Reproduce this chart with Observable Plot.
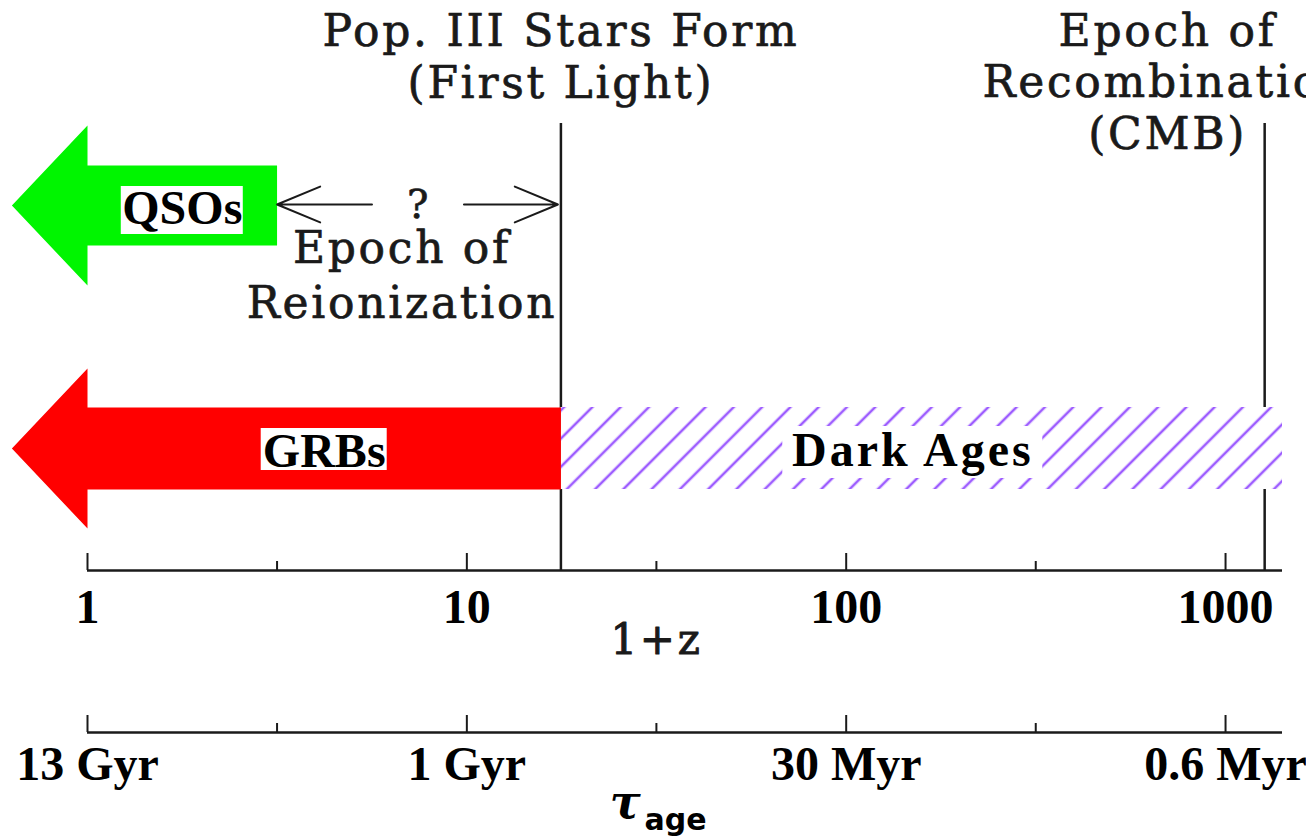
<!DOCTYPE html>
<html>
<head>
<meta charset="utf-8">
<script src="https://cdn.jsdelivr.net/npm/d3@7"></script>
<script src="https://cdn.jsdelivr.net/npm/@observablehq/plot@0.6"></script>
<style>
  html, body { margin: 0; padding: 0; background: #fff; overflow: hidden; }
  #chart svg { display: block; }
</style>
</head>
<body>
<div id="chart"></div>
<script>
// ---------------- data (1+z values) ----------------
const majorTicks = [1, 10, 100, 1000];
const minorTicks = [3.16, 31.6, 316];
const redshiftLabels = ["1", "10", "100", "1000"];
const ageLabels = ["13 Gyr", "1 Gyr", "30 Myr", "0.6 Myr"];
const axisStart = 1;
const axisEnd = 1413;
const popIIIz = 17.7;     // first light
const cmbZ = 1268;        // recombination
const qsoEnd = 3.16;      // QSOs reach to here
const grbEnd = 17.7;      // GRBs reach to here
const arrowTip = 0.632;   // arrow tips extend past 1+z = 1
const headBase = 1;
const epochTitles = ["Pop. III Stars Form\n(First Light)", "Epoch of\nRecombination\n(CMB)"];
const probeNames = ["QSOs", "GRBs", "Dark Ages"];

// ---------------- layout (vertical, in pixels of the y scale) ----------------
const L = {
  lineTop: 123, axisTop: 570, axisBottom: 732,
  majorLen: 17, minorLen: 9,
  qso: {cy: 205, shaft: 40, head: 80},
  grb: {cy: 448, shaft: 41, head: 80}
};

const ink = "#1a1a1a";
const serif = "DejaVu Serif, serif";
const boldSerif = "Liberation Serif, Times New Roman, serif";

function arrowPoly(end, g) {
  return [
    {x: arrowTip, y: g.cy},
    {x: headBase, y: g.cy - g.head},
    {x: headBase, y: g.cy - g.shaft},
    {x: end, y: g.cy - g.shaft},
    {x: end, y: g.cy + g.shaft},
    {x: headBase, y: g.cy + g.shaft},
    {x: headBase, y: g.cy + g.head}
  ];
}

const qMid = Math.sqrt(qsoEnd * popIIIz);
const qsoLabelX = Math.sqrt(headBase * qsoEnd);
const grbLabelX = Math.sqrt(headBase * grbEnd);
const darkLabelX = Math.sqrt(popIIIz * cmbZ);
const zLabelX = Math.sqrt(majorTicks[0] * majorTicks[3]);

const ticksTop = majorTicks.map((v, i) => ({v, label: redshiftLabels[i]}));
const ticksBottom = majorTicks.map((v, i) => ({v, label: ageLabels[i]}));

function box(x, cy, halfW, halfH) {
  return Plot.rect([{x, y: cy}], {
    x1: "x", x2: "x", y1: "y", y2: "y",
    insetLeft: -halfW, insetRight: -halfW, insetTop: -halfH, insetBottom: -halfH,
    fill: "white"
  });
}

const plainText = {fontFamily: serif, fontSize: 44, fill: ink, stroke: ink, strokeWidth: 0.7, lineAnchor: "bottom"};

const svg = Plot.plot({
  width: 1306,
  height: 839,
  marginLeft: 0, marginRight: 0, marginTop: 0, marginBottom: 0,
  x: {type: "log", domain: [axisStart, axisEnd], range: [87, 1282], axis: null},
  y: {domain: [0, 839], range: [0, 839], axis: null},
  marks: [
    // epoch lines
    Plot.ruleX([popIIIz, cmbZ], {y1: L.lineTop, y2: L.axisTop, stroke: ink, strokeWidth: 2.5}),
    // dark ages band (white underlay + hatch)
    Plot.rect([{x1: popIIIz, x2: axisEnd, y1: L.grb.cy - L.grb.shaft, y2: L.grb.cy + L.grb.shaft}],
      {x1: "x1", x2: "x2", y1: "y1", y2: "y2", fill: "white"}),
    Plot.rect([{x1: popIIIz, x2: axisEnd, y1: L.grb.cy - L.grb.shaft, y2: L.grb.cy + L.grb.shaft}],
      {x1: "x1", x2: "x2", y1: "y1", y2: "y2", fill: "url(#hatch)"}),
    // GRB and QSO arrows
    Plot.line(arrowPoly(grbEnd, L.grb), {x: "x", y: "y", curve: "linear-closed", fill: "#ff0000", stroke: "none"}),
    Plot.line(arrowPoly(qsoEnd, L.qso), {x: "x", y: "y", curve: "linear-closed", fill: "#00f500", stroke: "none"}),
    // label boxes
    box(qsoLabelX, 210, 61, 24),
    box(grbLabelX, 449, 63, 21),
    box(darkLabelX, 452, 130, 26),
    // probe labels
    Plot.text([probeNames[0]], {x: qsoLabelX, y: 223, text: d => d, lineAnchor: "bottom",
      fontFamily: boldSerif, fontWeight: "bold", fontSize: 48, fill: "black"}),
    Plot.text([probeNames[1]], {x: grbLabelX, y: 466, text: d => d, lineAnchor: "bottom",
      fontFamily: boldSerif, fontWeight: "bold", fontSize: 48, fill: "black"}),
    Plot.text([probeNames[2]], {x: darkLabelX, y: 465, text: d => d, lineAnchor: "bottom",
      fontFamily: boldSerif, fontWeight: "bold", fontSize: 48, fill: "black"}),
    // reionization "?" arrows
    Plot.arrow([{a: qMid, b: qsoEnd}], {x1: "a", x2: "b", y1: L.qso.cy - 1, y2: L.qso.cy - 1,
      insetStart: 47, insetEnd: 0, headLength: 35, headAngle: 45, strokeWidth: 2, stroke: ink}),
    Plot.arrow([{a: qMid, b: popIIIz}], {x1: "a", x2: "b", y1: L.qso.cy - 1, y2: L.qso.cy - 1,
      insetStart: 45, insetEnd: 3, headLength: 35, headAngle: 45, strokeWidth: 2, stroke: ink}),
    Plot.text(["?"], {...plainText, x: qMid, y: 217, text: d => d, fontSize: 40}),
    Plot.text(["Epoch of\nReionization"], {...plainText, x: qMid, dx: -17, y: 317, text: d => d,
      lineHeight: 1.23}),
    // epoch titles
    Plot.text([epochTitles[0]], {...plainText, x: popIIIz, y: 97, text: d => d, lineHeight: 1.18}),
    Plot.text([epochTitles[1]], {...plainText, x: cmbZ, dx: -97, y: 148, text: d => d, lineHeight: 1.17}),
    // 1+z axis
    Plot.ruleY([L.axisTop], {x1: axisStart, x2: axisEnd, stroke: ink, strokeWidth: 2.5}),
    Plot.ruleX(majorTicks, {y1: L.axisTop - L.majorLen, y2: L.axisTop, stroke: ink, strokeWidth: 2}),
    Plot.ruleX(minorTicks, {y1: L.axisTop - L.minorLen, y2: L.axisTop, stroke: ink, strokeWidth: 2}),
    Plot.text(ticksTop, {x: "v", y: 622, text: "label", lineAnchor: "bottom",
      fontFamily: boldSerif, fontWeight: "bold", fontSize: 48, fill: "black"}),
    Plot.text(["1+z"], {...plainText, x: zLabelX, y: 653, text: d => d, fontSize: 42, strokeWidth: 1}),
    // age axis
    Plot.ruleY([L.axisBottom], {x1: axisStart, x2: axisEnd, stroke: ink, strokeWidth: 2.5}),
    Plot.ruleX(majorTicks, {y1: L.axisBottom - L.majorLen, y2: L.axisBottom, stroke: ink, strokeWidth: 2}),
    Plot.ruleX(minorTicks, {y1: L.axisBottom - L.minorLen, y2: L.axisBottom, stroke: ink, strokeWidth: 2}),
    Plot.text(ticksBottom, {x: "v", y: 779, text: "label", lineAnchor: "bottom",
      fontFamily: boldSerif, fontWeight: "bold", fontSize: 48, fill: "black"}),
    Plot.text(["τ"], {x: zLabelX, dx: -13, y: 817, text: d => d, lineAnchor: "bottom", textAnchor: "end",
      fontFamily: serif, fontStyle: "italic", fontWeight: "bold", fontSize: 46, fill: "black"}),
    Plot.text(["age"], {x: zLabelX, dx: -12, y: 829, text: d => d, lineAnchor: "bottom", textAnchor: "start",
      fontFamily: "DejaVu Sans, sans-serif", fontWeight: "bold", fontSize: 30, fill: "black"})
  ]
});

// hatch pattern used by the Dark Ages band
const defs = d3.select(svg).insert("defs", ":first-child");
const pat = defs.append("pattern")
  .attr("id", "hatch")
  .attr("patternUnits", "userSpaceOnUse")
  .attr("width", 20).attr("height", 20)
  .attr("patternTransform", "translate(561,0) rotate(45)");
pat.append("line")
  .attr("x1", 10).attr("y1", -5).attr("x2", 10).attr("y2", 25)
  .attr("stroke", "#9d5cff").attr("stroke-width", 2.6);

// typewriter-like spacing for the plain serif captions
d3.select(svg).selectAll("g[font-family]")
  .filter(function () { return this.getAttribute("font-family").startsWith("DejaVu Serif"); })
  .style("letter-spacing", "2.7px");
d3.select(svg).selectAll("text")
  .filter(function () { return this.textContent === "Dark Ages"; })
  .style("letter-spacing", "3px");

document.getElementById("chart").appendChild(svg);
</script>
</body>
</html>
